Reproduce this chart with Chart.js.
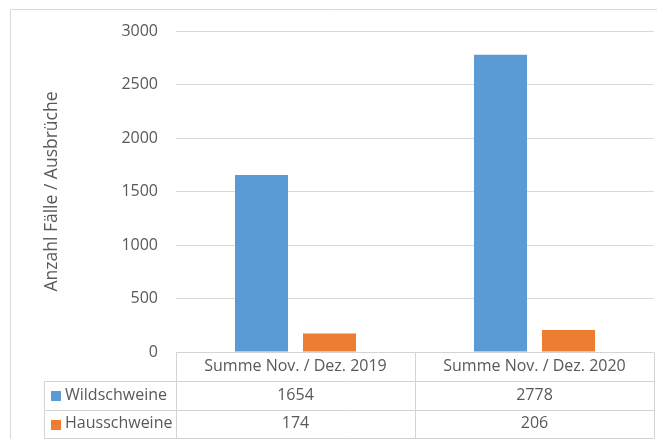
<!DOCTYPE html>
<html>
<head>
<meta charset="utf-8">
<script src="https://cdn.jsdelivr.net/npm/chart.js@4"></script>
<style>
html,body{margin:0;padding:0;background:#fff;}
#wrap{width:657px;height:439px;position:relative;}
</style>
</head>
<body>
<div id="wrap"><canvas id="c" width="657" height="439"></canvas></div>
<script>
const categories = ["Summe Nov. / Dez. 2019", "Summe Nov. / Dez. 2020"];
const seriesNames = ["Wildschweine", "Hausschweine"];
const wildschweine = [1654, 2778];
const hausschweine = [174, 206];
const yTicks = [0, 500, 1000, 1500, 2000, 2500, 3000];
const yTitle = "Anzahl Fälle / Ausbrüche";

const colors = ["#5B9BD5", "#ED7D31"];
const textColor = "#595959";
const fontFamily = "'Open Sans', sans-serif";
const fontSize = 16;

const tablePlugin = {
  id: 'dataTable',
  afterDraw(chart) {
    const ctx = chart.ctx;
    const xs = chart.scales.x;
    const area = chart.chartArea;
    const n = categories.length;
    const colW = (xs.right - xs.left) / n;
    const rowH = 28.5;
    const top = Math.round(area.bottom) + 0.5;
    const legendLeft = 44.5;
    const series = [wildschweine, hausschweine];
    ctx.save();
    ctx.strokeStyle = "#d9d9d9";
    ctx.lineWidth = 1;
    ctx.beginPath();
    ctx.moveTo(10.5, 439);
    ctx.lineTo(10.5, 9.5);
    ctx.lineTo(657, 9.5);
    ctx.stroke();
    ctx.strokeStyle = "#d4d4d4";
    ctx.beginPath();
    ctx.moveTo(xs.left, top); ctx.lineTo(xs.right, top);
    for (let r = 1; r <= series.length + 1; r++) {
      const y = Math.round(top + rowH * r) + 0.5;
      ctx.moveTo(legendLeft, y); ctx.lineTo(xs.right, y);
    }
    const bottom = Math.round(top + rowH * (series.length + 1)) + 0.5;
    for (let i = 0; i <= n; i++) {
      const x = Math.round(xs.left + colW * i) + 0.5;
      ctx.moveTo(x, top); ctx.lineTo(x, bottom);
    }
    ctx.moveTo(legendLeft, Math.round(top + rowH) + 0.5); ctx.lineTo(legendLeft, bottom);
    ctx.stroke();
    ctx.fillStyle = textColor;
    ctx.font = fontSize + "px " + fontFamily;
    ctx.textBaseline = "middle";
    ctx.textAlign = "center";
    for (let i = 0; i < n; i++) {
      const cx = xs.getPixelForValue(i);
      ctx.fillText(categories[i], cx, top + rowH / 2);
      for (let s = 0; s < series.length; s++) {
        ctx.fillText(String(series[s][i]), cx, top + rowH * (s + 1) + rowH / 2);
      }
    }
    ctx.textAlign = "left";
    for (let s = 0; s < series.length; s++) {
      const cy = top + rowH * (s + 1) + rowH / 2;
      ctx.fillStyle = colors[s];
      ctx.fillRect(51, Math.round(cy - 4), 10, 10);
      ctx.fillStyle = textColor;
      ctx.fillText(seriesNames[s], 65, cy);
    }
    ctx.restore();
  }
};

new Chart(document.getElementById('c'), {
  type: 'bar',
  data: {
    labels: categories,
    datasets: [
      { label: seriesNames[0], data: wildschweine, backgroundColor: colors[0], categoryPercentage: 0.569, barPercentage: 0.78 },
      { label: seriesNames[1], data: hausschweine, backgroundColor: colors[1], categoryPercentage: 0.569, barPercentage: 0.78 }
    ]
  },
  options: {
    responsive: false,
    animation: false,
    layout: { padding: { top: 31, right: 3, bottom: 87, left: 10 } },
    plugins: { legend: { display: false }, tooltip: { enabled: false } },
    scales: {
      x: { display: false },
      y: {
        min: 0, max: 3000,
        afterBuildTicks(scale) { scale.ticks = yTicks.map(v => ({ value: v })); },
        afterFit(scale) { scale.width = 166; },
        grid: { color: "#d9d9d9", drawTicks: false },
        border: { display: false },
        ticks: { color: textColor, font: { family: fontFamily, size: fontSize }, padding: 18, callback: v => String(v) },
        title: { display: true, text: yTitle, color: textColor, font: { family: fontFamily, size: 17.5 }, padding: { top: 32, bottom: 0 } }
      }
    }
  },
  plugins: [tablePlugin]
});
</script>
</body>
</html>
